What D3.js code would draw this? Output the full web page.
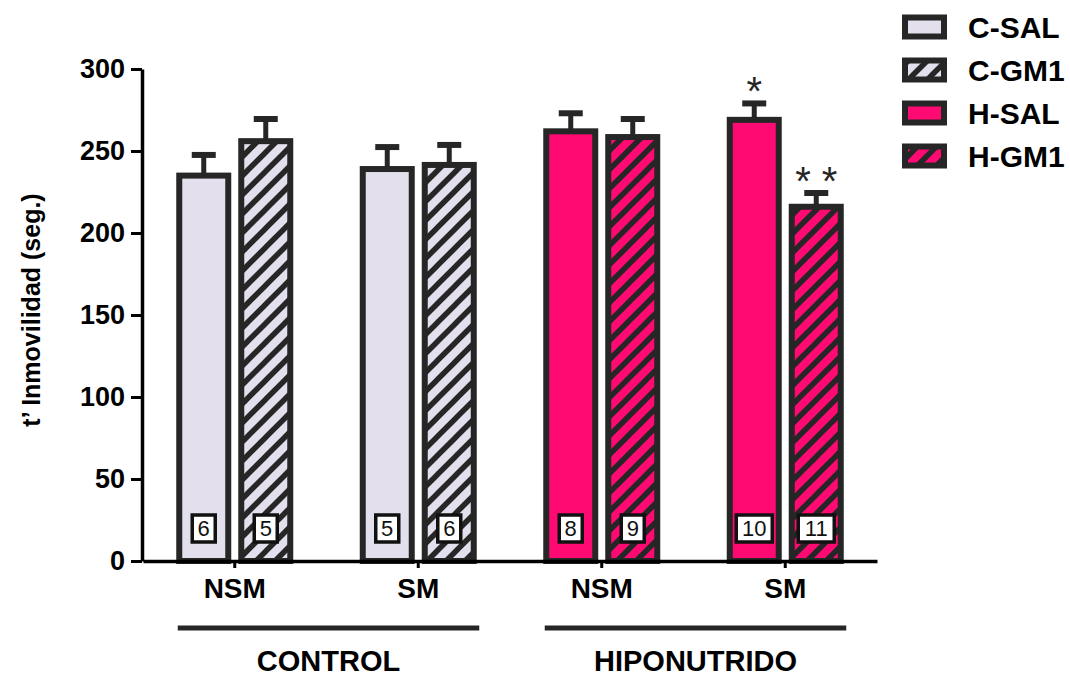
<!DOCTYPE html>
<html>
<head>
<meta charset="utf-8">
<script src="https://cdn.jsdelivr.net/npm/d3@7"></script>
<style>
  body { margin: 0; background: #fff; }
  text { font-family: "Liberation Sans", Arial, sans-serif; }
</style>
</head>
<body>
<div id="chart"></div>
<script>
// groups along the x axis
const groups = ["NSM", "SM", "NSM", "SM"];
const conditions = ["CONTROL", "CONTROL", "HIPONUTRIDO", "HIPONUTRIDO"];
const treatments = ["SAL", "GM1"];
// per group: [SAL, GM1]
const means = [[235, 256], [239, 241.5], [262, 258.5], [269, 216]];
const sems = [[12.6, 13.5], [13.4, 12.2], [11, 11], [10, 8.4]];
const ns = [[6, 5], [5, 6], [8, 9], [10, 11]];
const stars = [["", ""], ["", ""], ["", ""], ["*", "* *"]];
const legendLabels = ["C-SAL", "C-GM1", "H-SAL", "H-GM1"];
const yTicks = [0, 50, 100, 150, 200, 250, 300];

const W = 1070, H = 679;
const stroke = "#262626";
const lavender = "#E3DFEC";
const pink = "#FF0A73";

const svg = d3.select("#chart").append("svg")
    .attr("width", W).attr("height", H);

// hatch patterns
const defs = svg.append("defs");
function hatch(id, fill) {
    const p = defs.append("pattern")
        .attr("id", id)
        .attr("patternUnits", "userSpaceOnUse")
        .attr("width", 19).attr("height", 19);
    p.append("rect").attr("width", 19).attr("height", 19).attr("fill", fill);
    p.append("path")
        .attr("d", "M-5,5 L5,-5 M0,19 L19,0 M14,24 L24,14")
        .attr("stroke", stroke)
        .attr("stroke-width", 5.5);
}
hatch("hatchC", lavender);
hatch("hatchH", pink);

const fillFor = (gi, ti) => {
    const h = conditions[gi] === "HIPONUTRIDO";
    if (ti === 0) return h ? pink : lavender;
    return h ? "url(#hatchH)" : "url(#hatchC)";
};

const y = d3.scaleLinear().domain([0, 300]).range([561, 69]);
const x0 = d3.scaleBand().domain(d3.range(groups.length)).range([143, 877]);
const x1 = d3.scaleBand().domain(treatments).range([0, 117]).paddingInner(0.113);
const barW = x1.bandwidth();
const sw = 6;

const bars = svg.append("g");
groups.forEach((g, gi) => {
    const c = x0(gi) + x0.bandwidth() / 2;
    treatments.forEach((t, ti) => {
        const left = c - 58.5 + x1(t);
        const cx = left + barW / 2;
        const m = means[gi][ti], s = sems[gi][ti];
        // error bar
        bars.append("line")
            .attr("x1", cx).attr("x2", cx)
            .attr("y1", y(m)).attr("y2", y(m + s))
            .attr("stroke", stroke).attr("stroke-width", 5);
        bars.append("line")
            .attr("x1", cx - 12).attr("x2", cx + 12)
            .attr("y1", y(m + s)).attr("y2", y(m + s))
            .attr("stroke", stroke).attr("stroke-width", 6);
        // bar
        bars.append("rect")
            .attr("x", left + sw / 2)
            .attr("width", barW - sw)
            .attr("y", y(m))
            .attr("height", y(0) - y(m))
            .attr("fill", fillFor(gi, ti))
            .attr("stroke", stroke)
            .attr("stroke-width", sw);
        // n box
        const label = String(ns[gi][ti]);
        const bw = label.length > 1 ? 36 : 23;
        bars.append("rect")
            .attr("x", cx - bw / 2).attr("y", 515)
            .attr("width", bw).attr("height", 27)
            .attr("fill", "#fff")
            .attr("stroke", "#111").attr("stroke-width", 3.5);
        bars.append("text")
            .attr("x", cx).attr("y", 536)
            .attr("text-anchor", "middle")
            .attr("font-size", 22)
            .attr("fill", "#111")
            .text(label);
        // significance
        if (stars[gi][ti]) {
            bars.append("text")
                .attr("x", cx).attr("y", y(m + s) + 2)
                .attr("text-anchor", "middle")
                .attr("font-size", 40)
                .attr("fill", stroke)
                .text(stars[gi][ti]);
        }
    });
});

// y axis
const yAxis = svg.append("g")
    .attr("transform", "translate(142,0)")
    .call(d3.axisLeft(y).tickValues(yTicks).tickSize(11).tickSizeOuter(0).tickPadding(6));
yAxis.select(".domain").attr("stroke", "#000").attr("stroke-width", 3.5);
yAxis.selectAll(".tick line").attr("stroke", "#000").attr("stroke-width", 3);
yAxis.selectAll(".tick text")
    .attr("font-size", 27).attr("font-weight", "bold")
    .attr("font-family", "Liberation Sans, Arial, sans-serif")
    .attr("fill", "#000");

// x axis
const xAxis = svg.append("g")
    .attr("transform", "translate(0,561)")
    .call(d3.axisBottom(x0).tickSize(7).tickSizeOuter(0).tickFormat(i => groups[i]).tickPadding(10));
xAxis.select(".domain").attr("stroke", "#000").attr("stroke-width", 3.5);
xAxis.selectAll(".tick line").attr("stroke", "#000").attr("stroke-width", 3);
xAxis.selectAll(".tick text")
    .attr("font-size", 28).attr("font-weight", "bold")
    .attr("font-family", "Liberation Sans, Arial, sans-serif")
    .attr("fill", "#000");

// condition brackets
const condNames = Array.from(new Set(conditions));
condNames.forEach(cn => {
    const idx = d3.range(groups.length).filter(i => conditions[i] === cn);
    const a = x0(idx[0]) + x0.bandwidth() / 2 - 57;
    const b = x0(idx[idx.length - 1]) + x0.bandwidth() / 2 + 61;
    svg.append("line")
        .attr("x1", a).attr("x2", b).attr("y1", 628).attr("y2", 628)
        .attr("stroke", stroke).attr("stroke-width", 5);
    svg.append("text")
        .attr("x", (a + b) / 2).attr("y", 671)
        .attr("text-anchor", "middle")
        .attr("font-size", 29).attr("font-weight", "bold")
        .text(cn);
});

// y label
svg.append("text")
    .attr("transform", "translate(40,310) rotate(-90)")
    .attr("text-anchor", "middle")
    .attr("font-size", 25).attr("font-weight", "bold")
    .text("t’ Inmovilidad  (seg.)");

// legend
const legendFills = [lavender, "url(#hatchC)", pink, "url(#hatchH)"];
const lg = svg.append("g");
legendLabels.forEach((l, i) => {
    const cy = 27 + i * 43;
    lg.append("rect")
        .attr("x", 905).attr("y", cy - 9.5)
        .attr("width", 39).attr("height", 19)
        .attr("fill", legendFills[i])
        .attr("stroke", stroke).attr("stroke-width", 6);
    lg.append("text")
        .attr("x", 968).attr("y", cy + 10.5)
        .attr("font-size", 30).attr("font-weight", "bold")
        .text(l);
});
</script>
</body>
</html>
